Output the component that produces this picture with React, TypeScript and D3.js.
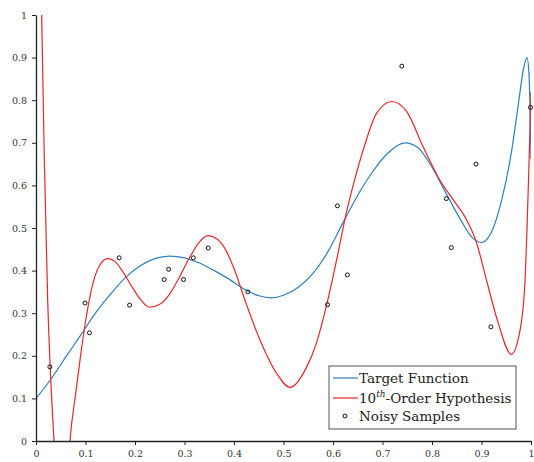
import * as d3 from 'd3';
import { useEffect, useRef } from 'react';

// values
const targetX = [0, 0.03, 0.06, 0.09, 0.12, 0.15, 0.18, 0.21, 0.24, 0.27, 0.30, 0.33, 0.36, 0.39, 0.42, 0.45, 0.475, 0.50, 0.53, 0.56, 0.59, 0.62, 0.65, 0.68, 0.71, 0.745, 0.77, 0.80, 0.83, 0.86, 0.88, 0.90, 0.92, 0.94, 0.96, 0.975, 0.985, 0.992, 0.996, 1.0];
const targetY = [0.100, 0.145, 0.197, 0.248, 0.300, 0.344, 0.383, 0.411, 0.428, 0.434, 0.430, 0.418, 0.400, 0.380, 0.357, 0.341, 0.336, 0.342, 0.361, 0.394, 0.445, 0.512, 0.577, 0.632, 0.675, 0.700, 0.690, 0.643, 0.578, 0.515, 0.479, 0.466, 0.490, 0.562, 0.675, 0.795, 0.875, 0.900, 0.860, 0.662];

const hypoX = [0.006, 0.0115, 0.0168, 0.0236, 0.030, 0.0364, 0.044, 0.0525, 0.061, 0.0687, 0.08, 0.09, 0.10, 0.11, 0.12, 0.13, 0.145, 0.16, 0.175, 0.195, 0.21, 0.229, 0.25, 0.27, 0.29, 0.31, 0.33, 0.347, 0.365, 0.38, 0.40, 0.422, 0.4525, 0.486, 0.513, 0.547, 0.566, 0.587, 0.61, 0.626, 0.643, 0.661, 0.688, 0.719, 0.749, 0.782, 0.816, 0.843, 0.870, 0.889, 0.910, 0.934, 0.960, 0.978, 0.988, 0.995, 1.0];
const hypoY = [1.30, 1.0, 0.660, 0.331, 0.14, 0.0, -0.15, -0.21, -0.15, 0.0, 0.11, 0.20, 0.28, 0.345, 0.39, 0.415, 0.428, 0.421, 0.398, 0.360, 0.334, 0.314, 0.321, 0.345, 0.385, 0.430, 0.467, 0.482, 0.475, 0.455, 0.405, 0.331, 0.237, 0.159, 0.126, 0.174, 0.228, 0.319, 0.44, 0.531, 0.610, 0.683, 0.769, 0.797, 0.773, 0.691, 0.612, 0.566, 0.519, 0.469, 0.378, 0.276, 0.2035, 0.261, 0.378, 0.613, 0.82];

const sampleX = [0.028, 0.099, 0.108, 0.168, 0.189, 0.259, 0.268, 0.298, 0.318, 0.348, 0.428, 0.589, 0.609, 0.629, 0.739, 0.829, 0.839, 0.889, 0.919, 0.999];
const sampleY = [0.174, 0.324, 0.254, 0.430, 0.319, 0.379, 0.403, 0.379, 0.430, 0.453, 0.350, 0.320, 0.552, 0.390, 0.880, 0.569, 0.454, 0.650, 0.268, 0.783];

const xTicks = [0, 0.1, 0.2, 0.3, 0.4, 0.5, 0.6, 0.7, 0.8, 0.9, 1];
const yTicks = [0, 0.1, 0.2, 0.3, 0.4, 0.5, 0.6, 0.7, 0.8, 0.9, 1];

const BLUE = '#2c7fc0';
const RED = '#e8262b';
const SERIF = '"DejaVu Serif", "Liberation Serif", serif';

export default function App() {
    const ref = useRef<any>();

    useEffect(() => {
        const width = 534;
        const height = 462;
        const margin = { top: 15, right: 3, bottom: 21, left: 36 };
        const innerW = width - margin.left - margin.right;
        const innerH = height - margin.top - margin.bottom;

        const svg = d3.select<any, any>(ref.current)
            .attr('width', width)
            .attr('height', height);
        svg.selectAll('*').remove();

        const stage = svg.append('g')
            .attr('transform', `translate(${margin.left}, ${margin.top})`);

        const xScale = d3.scaleLinear().domain([0, 1]).range([0, innerW]);
        const yScale = d3.scaleLinear().domain([0, 1]).range([innerH, 0]);

        svg.append('defs').append('clipPath').attr('id', 'plot-clip')
            .append('rect')
            .attr('x', 0).attr('y', 0)
            .attr('width', innerW).attr('height', innerH);

        const plot = stage.append('g').attr('clip-path', 'url(#plot-clip)');

        const target = targetX.map((x, i) => [x, targetY[i]]);
        const hypo = hypoX.map((x, i) => [x, hypoY[i]]);

        const line = d3.line<any>()
            .x(d => xScale(d[0]))
            .y(d => yScale(d[1]))
            .curve(d3.curveMonotoneX);

        plot.append('path')
            .datum(target)
            .attr('d', line)
            .attr('fill', 'none')
            .attr('stroke', BLUE)
            .attr('stroke-width', 1.2);

        plot.append('path')
            .datum(hypo)
            .attr('d', line)
            .attr('fill', 'none')
            .attr('stroke', RED)
            .attr('stroke-width', 1.2);

        // noisy samples
        stage.selectAll('.sample')
            .data(sampleX.map((x, i) => [x, sampleY[i]]))
            .join('circle')
            .attr('class', 'sample')
            .attr('cx', d => xScale(d[0]))
            .attr('cy', d => yScale(d[1]))
            .attr('r', 2)
            .attr('fill', 'none')
            .attr('stroke', '#111')
            .attr('stroke-width', 1);

        const fmt = d3.format('~g');
        const xAxis = d3.axisBottom(xScale).tickValues(xTicks).tickFormat((d: any) => fmt(d)).tickSize(4).tickPadding(5);
        const yAxis = d3.axisLeft(yScale).tickValues(yTicks).tickFormat((d: any) => fmt(d)).tickSize(4).tickPadding(5);

        const styleAxis = (g: any) => {
            g.select('.domain').attr('stroke', '#222').attr('stroke-width', 1.3);
            g.selectAll('.tick line').attr('stroke', '#222').attr('stroke-width', 1);
            g.selectAll('.tick text')
                .attr('fill', '#333')
                .style('font-family', SERIF)
                .style('font-size', '9.5px');
        };

        stage.append('g')
            .attr('transform', `translate(0, ${innerH})`)
            .call(xAxis.tickSizeOuter(0))
            .call(styleAxis);
        stage.append('g')
            .call(yAxis.tickSizeOuter(0))
            .call(styleAxis);

        // legend
        const legend = svg.append('g').attr('transform', 'translate(329, 366)');
        legend.append('rect')
            .attr('width', 187)
            .attr('height', 63)
            .attr('fill', 'white')
            .attr('stroke', '#555')
            .attr('stroke-width', 1);

        const rows = [
            { label: 'Target Function', kind: 'line', color: BLUE },
            { label: 'Order', kind: 'line', color: RED },
            { label: 'Noisy Samples', kind: 'dot', color: '#111' },
        ];
        const rowY = [12, 32, 50];
        rows.forEach((r, i) => {
            const g = legend.append('g').attr('transform', `translate(0, ${rowY[i]})`);
            if (r.kind === 'line') {
                g.append('line')
                    .attr('x1', 4).attr('x2', 29)
                    .attr('y1', 0).attr('y2', 0)
                    .attr('stroke', r.color)
                    .attr('stroke-width', 1.2);
            } else {
                g.append('circle')
                    .attr('cx', 16).attr('cy', 0).attr('r', 2)
                    .attr('fill', 'none').attr('stroke', r.color).attr('stroke-width', 1);
            }
            const t = g.append('text')
                .attr('x', 30)
                .attr('y', 5)
                .attr('fill', '#222')
                .style('font-family', SERIF)
                .style('font-size', '13.5px');
            if (i === 1) {
                t.append('tspan').text('10');
                t.append('tspan')
                    .attr('dy', -6)
                    .style('font-size', '9px')
                    .style('font-style', 'italic')
                    .text('th');
                t.append('tspan').attr('dy', 6).text('-Order Hypothesis');
            } else {
                t.text(r.label);
            }
        });
    }, []);

    return (
        <svg ref={ref} style={{ position: 'absolute', left: 0, top: 0 }}></svg>
    );
}
